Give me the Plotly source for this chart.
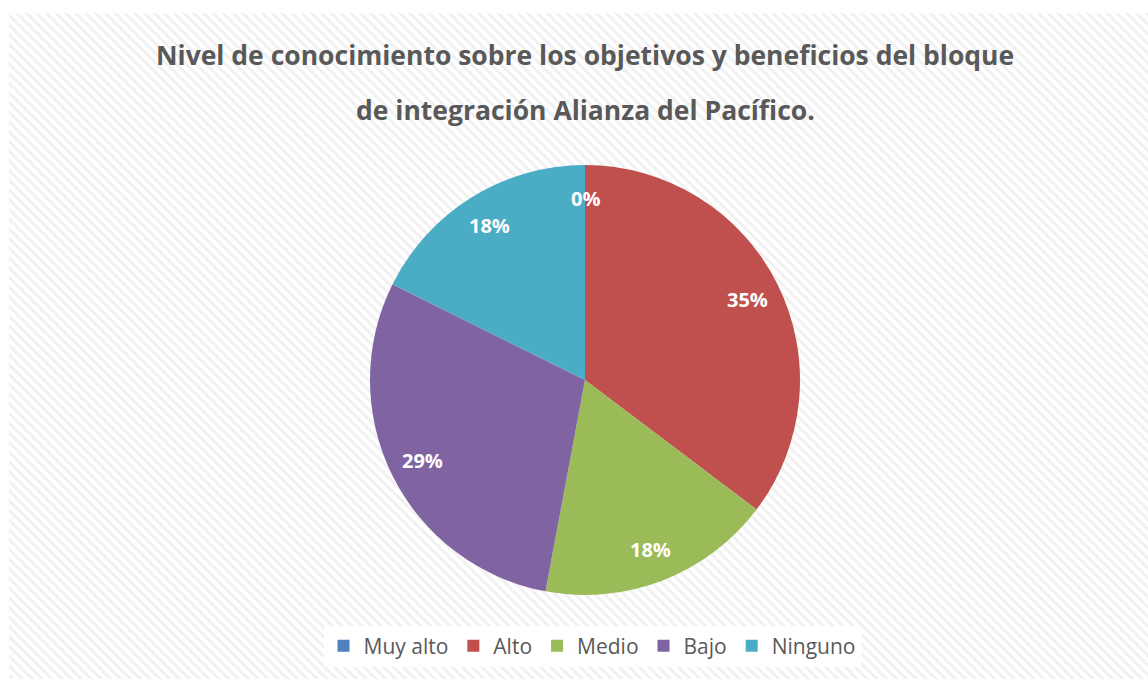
import math
import urllib.parse
import plotly.graph_objects as go

# ---- data ----
categories = ["Muy alto", "Alto", "Medio", "Bajo", "Ninguno"]
counts = [0, 6, 3, 5, 3]
colors = ["#4F81BD", "#C0504D", "#9BBB59", "#8064A2", "#4BACC6"]
title_lines = ["Nivel de conocimiento sobre los objetivos y beneficios del bloque",
               "de integración Alianza del Pacífico."]

W, H = 1148, 679
# pie placement (pixels)
cx, cy, r = 585, 380, 215

fig = go.Figure()
fig.add_trace(go.Pie(
    labels=categories, values=counts, marker=dict(colors=colors, line=dict(width=0)),
    sort=False, direction="clockwise", rotation=0,
    textinfo="none", hoverinfo="label+percent",
    domain=dict(x=[(cx - r) / W, (cx + r) / W], y=[1 - (cy + r) / H, 1 - (cy - r) / H]),
    showlegend=True,
))

# data labels near the outer part of each slice's middle angle
total = sum(counts)
cum = 0
annotations = []
for v in counts:
    frac = v / total
    mid = (cum + frac / 2) * 2 * math.pi
    cum += frac
    d = 0.845 * r
    px = cx + d * math.sin(mid)
    py = cy - d * math.cos(mid)
    annotations.append(dict(
        x=px / W, y=1 - py / H, xref="paper", yref="paper",
        xanchor="center", yanchor="middle",
        text=f"{round(frac * 100)}%", showarrow=False,
        font=dict(family="Open Sans", size=20, color="white", weight="bold"),
    ))

for i, line in enumerate(title_lines):
    annotations.append(dict(
        x=585 / W, y=1 - (55 + i * 55) / H, xref="paper", yref="paper",
        xanchor="center", yanchor="middle",
        text=f"<b>{line}</b>", showarrow=False,
        font=dict(family="Open Sans", size=26.5, color="#595959"),
    ))

# hatched chart area background (SVG pattern)
svg = (
    f'<svg xmlns="http://www.w3.org/2000/svg" width="{W}" height="{H}">'
    '<defs><pattern id="p" width="7" height="7" patternUnits="userSpaceOnUse" '
    'patternTransform="rotate(45)">'
    '<rect width="7" height="7" fill="#ffffff"/>'
    '<rect width="7" height="3" fill="#f1f1f1"/></pattern></defs>'
    f'<rect width="{W}" height="{H}" fill="url(#p)"/></svg>'
)
src = "data:image/svg+xml;charset=utf-8," + urllib.parse.quote(svg)

fig.update_layout(
    width=W, height=H,
    margin=dict(l=0, r=0, t=0, b=0),
    paper_bgcolor="white", plot_bgcolor="white",
    annotations=annotations,
    images=[dict(source=src, xref="paper", yref="paper",
                 x=9 / W, y=1 - 13 / H, sizex=(W - 9) / W, sizey=(H - 13) / H,
                 xanchor="left", yanchor="top", sizing="stretch", layer="below")],
    legend=dict(orientation="h", x=592 / W, xanchor="center", y=1 - 646 / H, yanchor="middle",
                bgcolor="white", font=dict(family="Open Sans", size=21, color="#595959"),
                itemwidth=30, tracegroupgap=0),
)

fig.write_html("out.html", config={"displayModeBar": False},
               post_script="document.body.style.margin='0';")
